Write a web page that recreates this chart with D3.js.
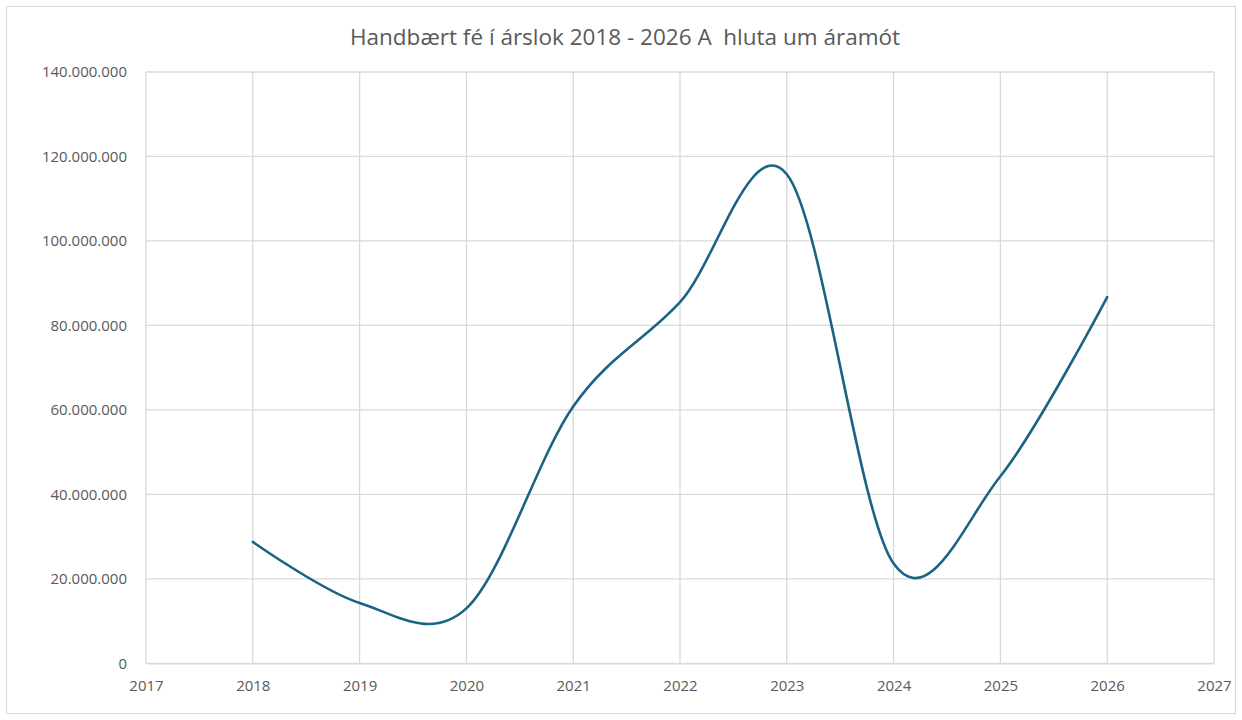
<!DOCTYPE html>
<html><head><meta charset="utf-8">
<script src="https://cdn.jsdelivr.net/npm/d3@7"></script>
<style>body{margin:0;background:#fff}svg{display:block}</style>
</head><body>
<svg id="c" width="1242" height="720"></svg>
<script>
const title = "Handbært fé í árslok 2018 - 2026 A  hluta um áramót";
const years = [2018, 2019, 2020, 2021, 2022, 2023, 2024, 2025, 2026];
const values = [28750000, 14300000, 13000000, 60800000, 85500000, 115800000, 23600000, 44300000, 86700000];
const xTicks = [2017, 2018, 2019, 2020, 2021, 2022, 2023, 2024, 2025, 2026, 2027];
const yTicks = [0, 20000000, 40000000, 60000000, 80000000, 100000000, 120000000, 140000000];

const svg = d3.select("#c");
const m = {left: 146, right: 1214, top: 72, bottom: 663.3};
const font = "'Open Sans', sans-serif";
const grey = "#d9d9d9", txt = "#595959";

svg.append("rect").attr("x", 6.5).attr("y", 6.5).attr("width", 1229).attr("height", 707)
  .attr("fill", "#fff").attr("stroke", grey).attr("stroke-width", 1);

const x = d3.scaleLinear().domain([2017, 2027]).range([m.left, m.right]);
const y = d3.scaleLinear().domain([0, 140000000]).range([m.bottom, m.top]);

const fmt = v => d3.format(",")(v).replace(/,/g, ".");

svg.append("g").selectAll("line").data(yTicks).join("line")
  .attr("x1", m.left).attr("x2", m.right)
  .attr("y1", d => y(d)).attr("y2", d => y(d))
  .attr("stroke", grey).attr("stroke-width", 1.3);
svg.append("g").selectAll("line").data(xTicks).join("line")
  .attr("x1", d => x(d)).attr("x2", d => x(d))
  .attr("y1", m.top).attr("y2", m.bottom)
  .attr("stroke", grey).attr("stroke-width", 1.3);

const yAxis = d3.axisLeft(y).tickValues(yTicks).tickFormat(fmt).tickSize(0).tickPadding(19);
const ga = svg.append("g").attr("transform", `translate(${m.left},0)`).call(yAxis);
ga.select(".domain").remove();
ga.selectAll("text").attr("font-family", font).attr("font-size", 15).attr("fill", txt);

const xAxis = d3.axisBottom(x).tickValues(xTicks).tickFormat(d3.format("d")).tickSize(0).tickPadding(17.5);
const gx = svg.append("g").attr("transform", `translate(0,${m.bottom})`).call(xAxis);
gx.select(".domain").attr("stroke", grey).attr("stroke-width", 1.3);
gx.selectAll("text").attr("font-family", font).attr("font-size", 15).attr("fill", txt);

const line = d3.line().x((d, i) => x(years[i])).y(d => y(d)).curve(d3.curveCardinal.tension(0));
svg.append("path").datum(values).attr("d", line)
  .attr("fill", "none").attr("stroke", "#1b6385").attr("stroke-width", 2.6)
  .attr("stroke-linecap", "round").attr("stroke-linejoin", "round");

svg.append("text").attr("x", 625).attr("y", 45).attr("text-anchor", "middle")
  .attr("xml:space", "preserve").style("white-space", "pre")
  .attr("font-family", font).attr("font-size", 22.5).attr("fill", txt).text(title);
</script>
</body></html>
